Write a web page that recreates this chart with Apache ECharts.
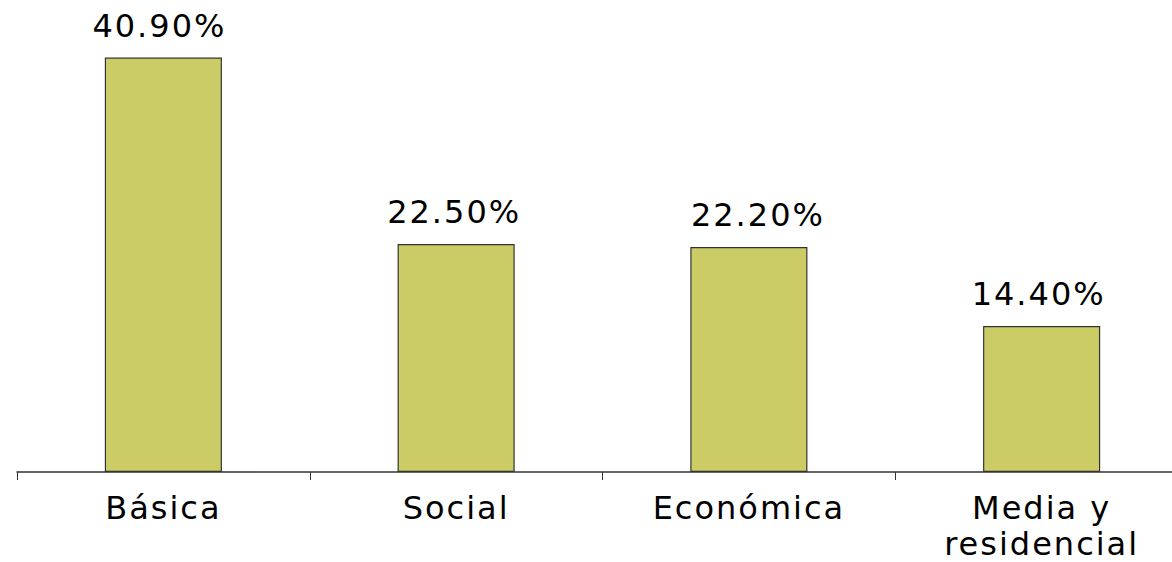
<!DOCTYPE html>
<html>
<head>
<meta charset="utf-8">
<script src="https://cdn.jsdelivr.net/npm/echarts@6/dist/echarts.min.js"></script>
<style>
  html, body { margin: 0; padding: 0; background: #ffffff; }
  /* wide-set lettering for all chart texts (inherited by the SVG text nodes) */
  #chart { width: 1172px; height: 562px; letter-spacing: 2px; }
</style>
</head>
<body>
<div id="chart"></div>
<script>
// Distribución por tipo de vivienda
const categories = ['Básica', 'Social', 'Económica', 'Media y\nresidencial'];
const shares = [40.9, 22.5, 22.2, 14.4];

const chart = echarts.init(document.getElementById('chart'), null, { renderer: 'svg' });
const font = '"DejaVu Sans", Verdana, sans-serif';

// horizontal nudges of the value labels above each bar
const labelShift = [-4, -2, 9, -3];

chart.setOption({
  animation: false,
  backgroundColor: '#ffffff',
  grid: { left: 17, top: 16, width: 1171, bottom: 90, outerBoundsMode: 'none' },
  xAxis: {
    type: 'category',
    data: categories,
    boundaryGap: true,
    axisLine: { show: true, lineStyle: { color: '#333333', width: 1.5 } },
    axisTick: { show: true, length: 8, lineStyle: { color: '#333333', width: 1 } },
    axisLabel: {
      color: '#000000',
      fontFamily: font,
      fontSize: 32,
      lineHeight: 36,
      margin: 18,
      interval: 0
    }
  },
  yAxis: {
    type: 'value',
    min: 0,
    max: 45,
    show: false,
    splitLine: { show: false }
  },
  series: [{
    type: 'bar',
    data: shares.map((v, i) => ({ value: v, label: { offset: [labelShift[i], 0] } })),
    barWidth: '40%',
    itemStyle: { color: '#CCCC66', borderColor: '#333333', borderWidth: 1.2 },
    label: {
      show: true,
      position: 'top',
      distance: 16,
      color: '#000000',
      fontFamily: font,
      fontSize: 32,
      formatter: p => p.value.toFixed(2) + '%'
    }
  }]
});
</script>
</body>
</html>
